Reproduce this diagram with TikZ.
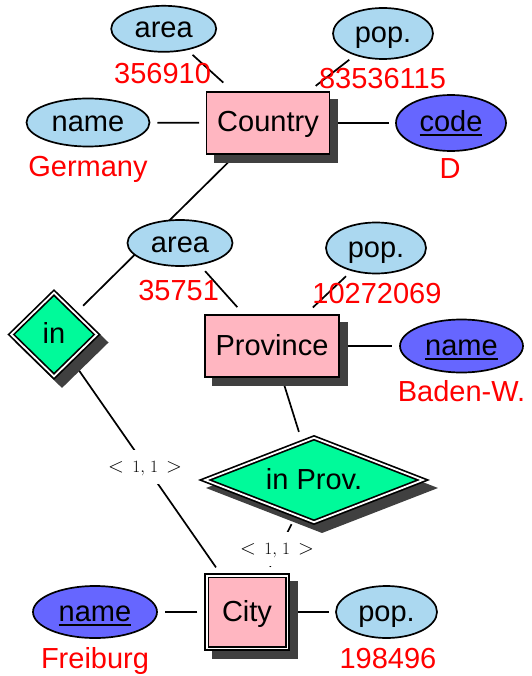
\documentclass[tikz,border=0pt]{standalone}
\usepackage{fontspec}
\setmainfont{Liberation Sans}
\usetikzlibrary{shapes.geometric,backgrounds}
\definecolor{attrc}{RGB}{171,216,240}
\definecolor{keyc}{RGB}{102,102,255}
\definecolor{entc}{RGB}{255,182,193}
\definecolor{relc}{RGB}{0,250,154}
\definecolor{shadowc}{RGB}{64,64,64}
\newcommand{\bigfs}{\fontsize{29}{34}\selectfont}
\newcommand{\keyul}[1]{\setbox0\hbox{#1}\rlap{\rule[-4.5pt]{\wd0}{2pt}}\box0}
\newcommand{\cardtext}{{\fontsize{21}{22}\selectfont$<$}\hspace{8.5pt}{\fontsize{17}{18}\selectfont$1,$\hspace{5pt}$1$}\hspace{8pt}{\fontsize{21}{22}\selectfont$>$}}
\tikzset{
  shd/.style={preaction={fill=shadowc, draw=shadowc, line width=#1, transform canvas={shift={(8pt,-8pt)}}}},
  nbase/.style={draw=black, line width=1.7pt, inner sep=0pt, outer sep=0pt, text height=21pt, text depth=3pt, font=\bigfs},
  attr/.style={nbase, ellipse, fill=attrc},
  keyattr/.style={nbase, ellipse, fill=keyc},
  ent/.style={nbase, rectangle, fill=entc, shd=1.7pt},
  weakent/.style={nbase, rectangle, fill=entc, double=white, double distance=1.8pt, shd=5.2pt},
  rel/.style={nbase, diamond, fill=relc, double=white, double distance=1.8pt, shd=5.2pt},
  val/.style={text=red, font=\bigfs, anchor=base, inner sep=0pt},
  cardlab/.style={fill=white, inner sep=1pt, text height=21pt, text depth=11pt, anchor=base},
  conn/.style={line width=1.7pt, draw=black},
}
\begin{document}
\begin{tikzpicture}[x=1pt,y=-1pt]
\useasboundingbox (0,0) rectangle (531,676);
% cardinality labels (white boxes mask the lines)
\node[cardlab] (c1) at (145,472) {\cardtext};
\node[cardlab] (c2) at (277,554) {\cardtext};
% entities, attributes, relationships
\node[ent, minimum width=123pt, minimum height=62pt] (country) at (268,123) {Country};
\node[attr, minimum width=105pt, minimum height=46pt] (areaT) at (163.7,28.8) {area};
\node[attr, minimum width=100pt, minimum height=51pt] (popT) at (383,33.5) {pop.};
\node[attr, minimum width=123pt, minimum height=48pt] (nameC) at (88,122.5) {name};
\node[keyattr, minimum width=110pt, minimum height=56pt] (code) at (451,123) {\keyul{code}};
\node[rel, minimum width=85.6pt, minimum height=83.6pt] (in) at (54,334.5) {in};
\node[attr, minimum width=105pt, minimum height=46pt] (area2) at (180,243) {area};
\node[attr, minimum width=100pt, minimum height=51pt] (pop2) at (376,248) {pop.};
\node[ent, minimum width=134pt, minimum height=62pt] (prov) at (272,346) {Province};
\node[keyattr, minimum width=123pt, minimum height=53pt] (name2) at (461.5,346) {\keyul{name}};
\node[rel, shape aspect=2.6, minimum width=217.6pt, minimum height=84.4pt] (inprov) at (314,480) {in Prov.};
\node[weakent, minimum width=80.8pt, minimum height=72.8pt] (city) at (247,612) {City};
\node[keyattr, minimum width=124pt, minimum height=52pt] (name3) at (95,612) {\keyul{name}};
\node[attr, minimum width=101pt, minimum height=52pt] (pop3) at (386.5,612) {pop.};
% values
\node[val] (v1) at (162.6,83.3) {356910};
\node[val] (v2) at (382.5,88.3) {83536115};
\node[val] (v3) at (88,177) {Germany};
\node[val] (v4) at (450,179) {D};
\node[val] (v5) at (178.6,300) {35751};
\node[val] (v6) at (377,303.3) {10272069};
\node[val] (v7) at (461.5,401.7) {Baden-W.};
\node[val] (v8) at (95,668) {Freiburg};
\node[val] (v9) at (388,668) {198496};
% connectors
\begin{pgfonlayer}{background}
\draw[conn, shorten <=8pt, shorten >=14pt] (areaT) -- (country);
\draw[conn, shorten <=8pt, shorten >=10pt] (popT) -- (country);
\draw[conn, shorten <=8pt, shorten >=7.5pt] (nameC) -- (country);
\draw[conn, shorten <=8pt, shorten >=7.5pt] (country) -- (code);
\draw[conn, shorten <=10.5pt, shorten >=11pt] (country) -- (in);
\draw[conn, shorten <=9pt, shorten >=10.5pt] (area2) -- (prov);
\draw[conn, shorten <=8.5pt, shorten >=11pt] (pop2) -- (prov);
\draw[conn, shorten <=8.8pt, shorten >=8pt] (prov) -- (name2);
\draw[conn, shorten <=9pt, shorten >=11pt] (prov) -- (inprov);
\draw[conn, shorten <=12pt, shorten >=10pt] (in) -- (city);
\draw[conn, shorten <=10pt, shorten >=10pt] (inprov) -- (city);
\draw[conn, shorten <=9.3pt, shorten >=7.5pt] (city) -- (name3);
\draw[conn, shorten <=8.6pt, shorten >=7.2pt] (city) -- (pop3);
\end{pgfonlayer}
\end{tikzpicture}
\end{document}
